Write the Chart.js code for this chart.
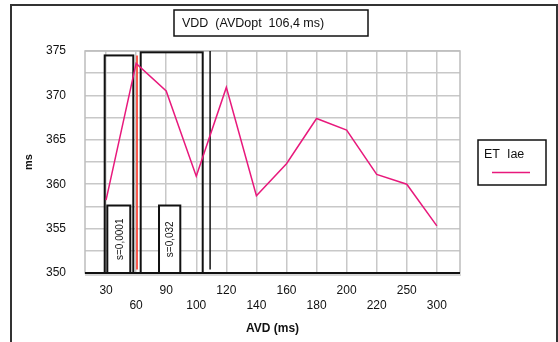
<!DOCTYPE html>
<html>
<head>
<meta charset="utf-8">
<script src="https://cdn.jsdelivr.net/npm/chart.js@4"></script>
<style>
  html, body { margin: 0; padding: 0; background: #fff; }
  #wrap { width: 558px; height: 342px; }
</style>
</head>
<body>
<div id="wrap"><canvas id="avdChart" width="558" height="342"></canvas></div>
<script>
// AVD categories (ms) and ET Iae values (ms)
const avdLabels = ['30', '60', '90', '100', '120', '140', '160', '180', '200', '220', '250', '300'];
const etIaeValues = [358.2, 373.6, 370.5, 360.9, 370.9, 358.7, 362.3, 367.4, 366.1, 361.1, 360.0, 355.3];

const yMin = 350;
const yMax = 375;
const yStep = 2.5;

const titleText = 'VDD  (AVDopt  106,4 ms)';
const legendText = 'ET  Iae';

// tall windows (x in category index units, y in ms)
const windowStart = [-0.045, 1.152];
const windowEnd = [0.906, 3.214];
const windowTop = [374.5, 374.85];

// significance boxes inside the windows
const sigStart = [0.042, 1.761];
const sigEnd = [0.806, 2.469];
const sigTop = [357.6, 357.6];
const sigText = ['s=0,0001', 's=0,032'];

// optimum markers
const markerX = [1.03, 3.46];
const markerTop = [374.5, 375];
const markerBottom = [350.4, 350.4];

const FONT = "'Liberation Sans', Arial, sans-serif";
const pink = '#e8197c';

const points = etIaeValues.map((v, i) => ({ x: i, y: v }));

const decorations = {
    id: 'decorations',
    beforeDraw(chart) {
        const ctx = chart.ctx;
        ctx.save();
        ctx.fillStyle = '#fff';
        ctx.fillRect(0, 0, chart.width, chart.height);
        // outer frame
        ctx.strokeStyle = '#333';
        ctx.lineWidth = 2;
        ctx.strokeRect(11, 5, 546, 345);
        ctx.restore();
    },
    beforeDatasetsDraw(chart) {
        const { ctx, chartArea: a, scales: { x, y } } = chart;
        ctx.save();
        // plot border
        ctx.strokeStyle = '#bdbdbd';
        ctx.lineWidth = 1.5;
        ctx.strokeRect(a.left, a.top, a.right - a.left, a.bottom - a.top);
        ctx.strokeStyle = '#c8c8c8';
        ctx.beginPath();
        ctx.moveTo(a.left, a.bottom + 2);
        ctx.lineTo(a.right + 1, a.bottom + 2);
        ctx.stroke();

        // windows
        ctx.strokeStyle = '#111';
        ctx.lineWidth = 2;
        for (let i = 0; i < windowStart.length; i++) {
            const x0 = x.getPixelForValue(windowStart[i]);
            const x1 = x.getPixelForValue(windowEnd[i]);
            const t = y.getPixelForValue(windowTop[i]);
            const b = y.getPixelForValue(yMin);
            ctx.strokeRect(x0, t, x1 - x0, b - t);
        }
        // significance boxes
        for (let i = 0; i < sigStart.length; i++) {
            const x0 = x.getPixelForValue(sigStart[i]);
            const x1 = x.getPixelForValue(sigEnd[i]);
            const t = y.getPixelForValue(sigTop[i]);
            const b = y.getPixelForValue(yMin);
            ctx.fillStyle = '#fff';
            ctx.fillRect(x0, t, x1 - x0, b - t);
            ctx.strokeRect(x0, t, x1 - x0, b - t);
            ctx.save();
            ctx.translate((x0 + x1) / 2, (t + b) / 2);
            ctx.rotate(-Math.PI / 2);
            ctx.fillStyle = '#111';
            ctx.font = '10px ' + FONT;
            ctx.textAlign = 'center';
            ctx.textBaseline = 'middle';
            ctx.fillText(sigText[i], 0, 1);
            ctx.restore();
        }
        // markers
        const markerColors = ['#ff2a1a', '#111'];
        for (let i = 0; i < markerX.length; i++) {
            const px = x.getPixelForValue(markerX[i]);
            ctx.strokeStyle = markerColors[i];
            ctx.lineWidth = 1.5;
            ctx.beginPath();
            ctx.moveTo(px, y.getPixelForValue(markerTop[i]));
            ctx.lineTo(px, y.getPixelForValue(markerBottom[i]));
            ctx.stroke();
        }
        // bottom axis line
        ctx.strokeStyle = '#111';
        ctx.lineWidth = 2;
        ctx.beginPath();
        ctx.moveTo(a.left, a.bottom);
        ctx.lineTo(a.right, a.bottom);
        ctx.stroke();
        ctx.restore();
    },
    afterDraw(chart) {
        const ctx = chart.ctx;
        ctx.save();
        // title box
        ctx.strokeStyle = '#111';
        ctx.lineWidth = 1.5;
        ctx.strokeRect(174, 10, 194, 26);
        ctx.fillStyle = '#111';
        ctx.font = '12.5px ' + FONT;
        ctx.textBaseline = 'middle';
        ctx.fillText(titleText, 182, 23.5);
        // legend box
        ctx.strokeRect(478, 140, 68, 45);
        ctx.fillText(legendText, 484, 155);
        ctx.strokeStyle = pink;
        ctx.lineWidth = 1.5;
        ctx.beginPath();
        ctx.moveTo(492, 172.5);
        ctx.lineTo(530, 172.5);
        ctx.stroke();
        ctx.restore();
    }
};

new Chart(document.getElementById('avdChart'), {
    type: 'line',
    data: {
        datasets: [{
            label: legendText,
            data: points,
            borderColor: pink,
            borderWidth: 1.5,
            pointRadius: 0,
            tension: 0,
            fill: false
        }]
    },
    options: {
        responsive: false,
        animation: false,
        layout: { padding: { left: 0, right: 98, top: 51, bottom: 0 } },
        plugins: {
            legend: { display: false },
            title: { display: false },
            tooltip: { enabled: false }
        },
        scales: {
            x: {
                type: 'linear',
                min: -0.7,
                max: 11.77,
                afterBuildTicks: (scale) => {
                    scale.ticks = avdLabels.map((_, i) => ({ value: i }));
                },
                afterFit: (scale) => { scale.height = 69; },
                grid: { color: '#c8c8c8', lineWidth: 1.5, drawTicks: false },
                border: { display: false },
                ticks: {
                    autoSkip: false,
                    maxRotation: 0,
                    padding: 10,
                    color: '#111',
                    font: { family: FONT, size: 12, lineHeight: 1.25 },
                    callback: (v) => {
                        const i = Math.round(v);
                        return i % 2 === 0 ? [avdLabels[i], ''] : ['', avdLabels[i]];
                    }
                },
                title: {
                    display: true,
                    text: 'AVD (ms)',
                    color: '#111',
                    font: { family: FONT, size: 12, weight: 'bold' },
                    padding: { top: 0, bottom: 6 }
                }
            },
            y: {
                min: yMin,
                max: yMax,
                afterFit: (scale) => { scale.width = 85; },
                grid: { color: '#c8c8c8', lineWidth: 1.5, drawTicks: false },
                border: { display: false },
                ticks: {
                    stepSize: yStep,
                    padding: 19,
                    color: '#111',
                    font: { family: FONT, size: 12 },
                    callback: (v) => (v % 5 === 0 ? String(v) : '')
                },
                title: {
                    display: true,
                    text: 'ms',
                    color: '#111',
                    font: { family: FONT, size: 11, weight: 'bold' },
                    padding: { top: 22, bottom: 0 }
                }
            }
        }
    },
    plugins: [decorations]
});
</script>
</body>
</html>
